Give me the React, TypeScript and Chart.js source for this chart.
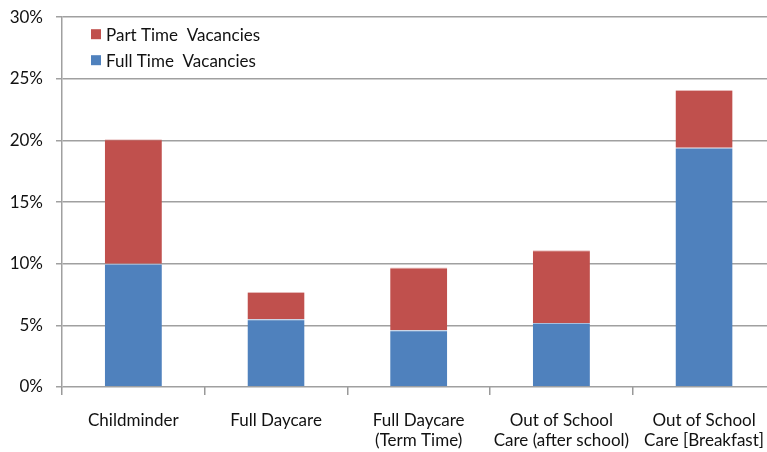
import React, { useEffect, useRef } from "react";
import { Chart, registerables } from "chart.js";

Chart.register(...registerables);

const categories: string[][] = [
  ["Childminder"],
  ["Full Daycare"],
  ["Full Daycare", "(Term Time)"],
  ["Out of School", "Care (after school)"],
  ["Out of School", "Care [Breakfast]"],
];
const fullTime = [10.0, 5.5, 4.6, 5.2, 19.4];
const partTime = [10.1, 2.2, 5.1, 5.9, 4.7];
const yTicks = [0, 5, 10, 15, 20, 25, 30];

const FONT = "Lato, 'Open Sans', sans-serif";

const legendPlugin = {
  id: "insideLegend",
  afterDraw(chart: any) {
    const ctx = chart.ctx;
    const items = [
      { label: chart.data.datasets[1].label, color: chart.data.datasets[1].backgroundColor },
      { label: chart.data.datasets[0].label, color: chart.data.datasets[0].backgroundColor },
    ];
    const top = chart.chartArea.top;
    ctx.save();
    ctx.font = `17px ${FONT}`;
    ctx.textBaseline = "middle";
    ctx.textAlign = "left";
    items.forEach((it, i) => {
      const cy = top + 17 + i * 26;
      ctx.fillStyle = it.color;
      ctx.fillRect(91, cy - 5, 10, 10);
      ctx.fillStyle = "#111";
      ctx.fillText(it.label, 106, cy + 1);
    });
    ctx.restore();
  },
};

export default function App() {
  const ref = useRef<HTMLCanvasElement>(null);
  useEffect(() => {
    if (!ref.current) return;
    const chart = new Chart(ref.current, {
      type: "bar",
      data: {
        labels: categories,
        datasets: [
          {
            label: "Full Time  Vacancies",
            data: fullTime,
            backgroundColor: "#4F81BD",
            borderColor: "#A7BFDE",
            borderWidth: { top: 1, left: 0, right: 0, bottom: 0 },
            barPercentage: 0.4,
            categoryPercentage: 1,
          },
          {
            label: "Part Time  Vacancies",
            data: partTime,
            backgroundColor: "#C0504D",
            borderColor: "#E6B9B8",
            borderWidth: { top: 1, left: 0, right: 0, bottom: 0 },
            barPercentage: 0.4,
            categoryPercentage: 1,
          },
        ],
      },
      options: {
        animation: false,
        responsive: false,
        layout: { padding: { top: 7, right: 0, left: 0, bottom: 0 } },
        plugins: { legend: { display: false }, tooltip: { enabled: false } },
        scales: {
          x: {
            stacked: true,
            afterFit(scale: any) {
              scale.height = 65;
            },
            grid: {
              drawOnChartArea: false,
              drawTicks: true,
              tickLength: 8,
              color: "#999",
              lineWidth: 1.5,
            },
            border: { display: false },
            ticks: {
              color: "#111",
              font: { family: FONT, size: 17, lineHeight: 1.15 },
              padding: 16,
              maxRotation: 0,
              autoSkip: false,
            },
          },
          y: {
            stacked: true,
            min: 0,
            max: 30,
            afterFit(scale: any) {
              scale.width = 62;
            },
            afterBuildTicks(scale: any) {
              scale.ticks = yTicks.map((v) => ({ value: v }));
            },
            grid: {
              color: "#A0A0A0",
              lineWidth: 1.5,
              tickLength: 6,
            },
            border: { display: true, color: "#A0A0A0", width: 1.5 },
            ticks: {
              color: "#111",
              font: { family: FONT, size: 17 },
              padding: 13,
              callback: (v: any) => `${v}%`,
            },
          },
        },
      },
      plugins: [legendPlugin],
    });
    return () => chart.destroy();
  }, []);
  return (
    <div style={{ position: "fixed", left: 0, top: -6, width: 780, height: 458, background: "#fff" }}>
      <canvas ref={ref} width={780} height={458} style={{ display: "block" }} />
    </div>
  );
}
